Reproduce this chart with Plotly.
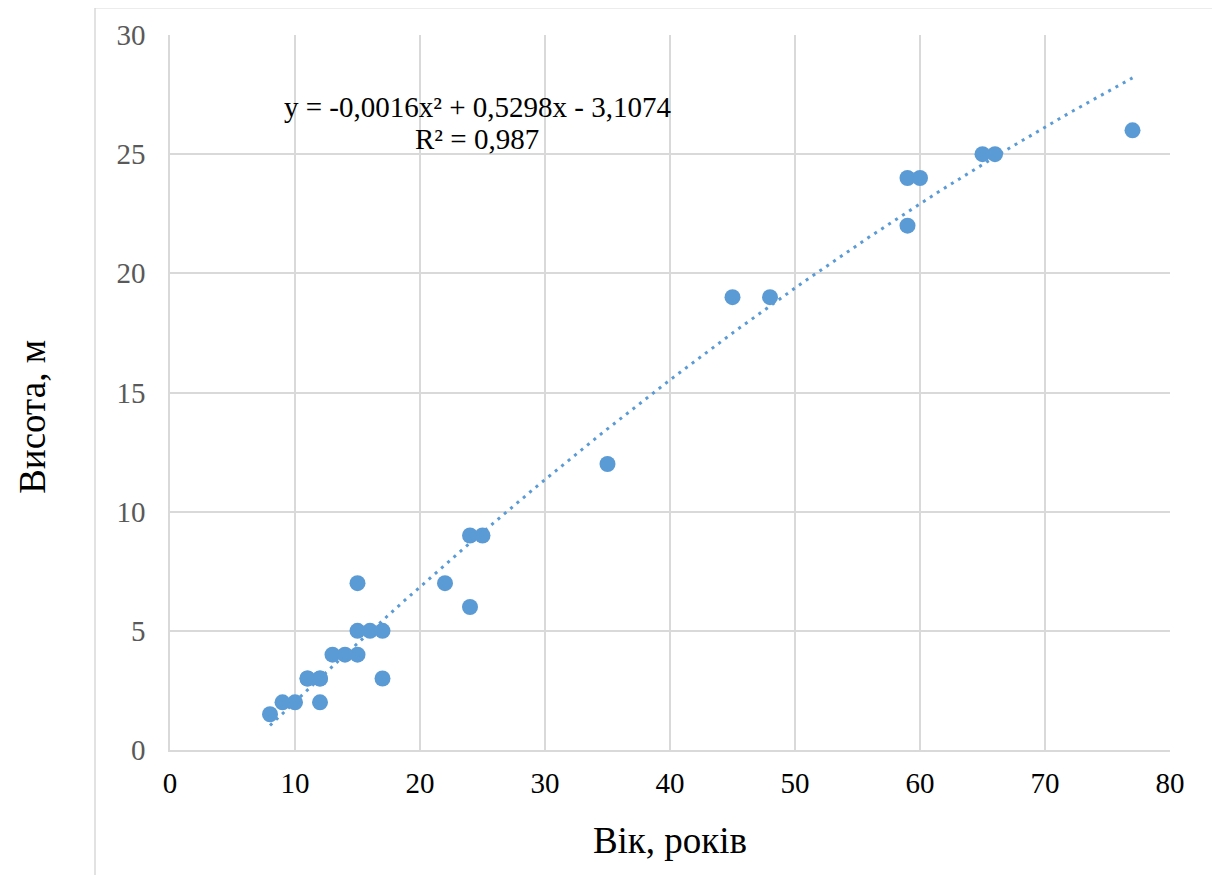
import numpy as np
import plotly.graph_objects as go

# Data
age = [8, 9, 10, 11, 11, 12, 12, 12, 13, 14, 15, 15, 15, 16, 17, 17,
       22, 24, 24, 25, 35, 45, 48, 59, 59, 60, 65, 66, 77]
height = [1.5, 2, 2, 3, 3, 3, 2, 3, 4, 4, 4, 5, 7, 5, 5, 3,
          7, 6, 9, 9, 12, 19, 19, 24, 22, 24, 25, 25, 26]
# Polynomial trendline coefficients (as printed on the chart)
trend_coef = [-0.0016, 0.5298, -3.1074]
eq_text = "y = -0,0016x² + 0,5298x - 3,1074"
r2_text = "R² = 0,987"
x_title = "Вік, років"
y_title = "Висота, м"

x_ticks = [0, 10, 20, 30, 40, 50, 60, 70, 80]
y_ticks = [0, 5, 10, 15, 20, 25, 30]

BLUE = "#5B9BD5"
GRID = "#D9D9D9"
FONT = "Liberation Serif, Times New Roman, serif"

tx = np.linspace(min(age), max(age), 200)
ty = np.polyval(trend_coef, tx)

fig = go.Figure()
fig.add_trace(go.Scatter(
    x=tx, y=ty, mode="lines",
    line=dict(color=BLUE, width=3, dash="3px,5.3px"),
    hoverinfo="skip", showlegend=False))
fig.add_trace(go.Scatter(
    x=age, y=height, mode="markers",
    marker=dict(color=BLUE, size=16, line=dict(width=0)),
    showlegend=False))

fig.update_layout(
    width=1220, height=875,
    margin=dict(l=162, r=58, t=27, b=133),
    paper_bgcolor="white", plot_bgcolor="white",
    font=dict(family=FONT, color="black"),
    xaxis=dict(
        range=[0, 80], tickvals=x_ticks, showgrid=True, gridcolor=GRID, gridwidth=1.5,
        showline=True, linecolor=GRID, linewidth=1.5, mirror=False, zeroline=False,
        tickfont=dict(size=29, color="black", family=FONT), ticks="",
        ticklabelstandoff=6, automargin=False,
        title=dict(text=x_title, font=dict(size=37, family=FONT, color="black"), standoff=30),
    ),
    yaxis=dict(
        range=[0, 30], tickvals=y_ticks, showgrid=True, gridcolor=GRID, gridwidth=1.5,
        showline=True, linecolor=GRID, linewidth=1.5, zeroline=False,
        tickfont=dict(size=29, color="#595959", family=FONT), ticks="",
        ticklabelstandoff=17, automargin=False,
    ),
    annotations=[
        dict(xref="paper", yref="paper", x=-0.137, y=0.466, text=y_title, showarrow=False,
             textangle=-90, font=dict(size=37, family=FONT, color="black"),
             xanchor="center", yanchor="middle", borderpad=0),
        dict(xref="paper", yref="paper", x=0.307, y=0.899, text=eq_text, showarrow=False,
             font=dict(size=29, family=FONT, color="black"), xanchor="center", yanchor="middle"),
        dict(xref="paper", yref="paper", x=0.307, y=0.854, text=r2_text, showarrow=False,
             font=dict(size=29, family=FONT, color="black"), xanchor="center", yanchor="middle"),
    ],
    shapes=[
        dict(type="rect", xref="paper", yref="paper", x0=-0.075, x1=1.047, y0=-0.2, y1=1.038,
             line=dict(color=GRID, width=1.5), fillcolor="rgba(0,0,0,0)", layer="below"),
    ],
)

fig.write_html("out.html")
